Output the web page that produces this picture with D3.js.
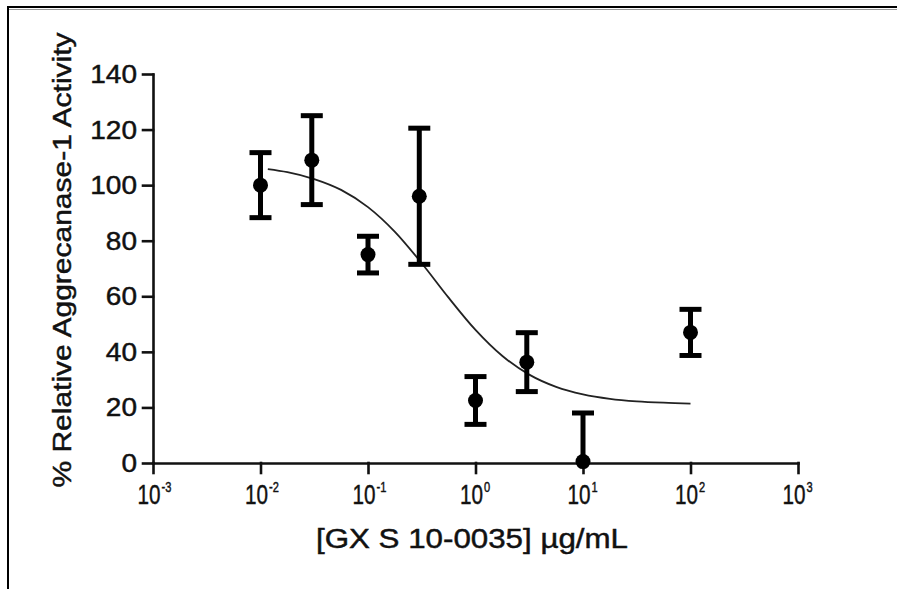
<!DOCTYPE html>
<html>
<head>
<meta charset="utf-8">
<script src="https://cdn.jsdelivr.net/npm/d3@7"></script>
<style>
  body { margin: 0; background: #fff; }
  text { font-family: "Liberation Sans", Arial, sans-serif; fill: #111; stroke: #111; stroke-width: 0.45px; }
</style>
</head>
<body>
<div id="container"></div>
<script>
const conc = [0.01, 0.03, 0.1, 0.3, 1, 3, 10, 100]
const activity = [100, 109, 75, 96, 22.5, 36.3, 0.5, 47]
const sem = [11.7, 16, 6.6, 24.5, 8.6, 10.6, 17.5, 8.3]

// fitted curve
const fitConc = [0.0117, 0.0178, 0.0316, 0.0562, 0.1, 0.178, 0.316, 0.562, 1, 1.78, 3.16, 5.62, 10, 17.8, 31.6, 56.2, 100]
const fitActivity = [105.8, 104.7, 102.2, 98.3, 92.1, 83.2, 71.9, 59.5, 47.9, 38.5, 31.8, 27.4, 24.7, 23.1, 22.2, 21.7, 21.4]

const xTicks = [1e-3, 1e-2, 1e-1, 1e0, 1e1, 1e2, 1e3]
const xTickExp = ['-3', '-2', '-1', '0', '1', '2', '3']
const yTicks = [0, 20, 40, 60, 80, 100, 120, 140]

const xTitle = '[GX S 10-0035] \u00b5g/mL'
const yTitle = '% Relative Aggrecanase-1 Activity'

const width = 897
const height = 589

const svg = d3.select('#container').append('svg')
    .attr('width', width)
    .attr('height', height)

// frame
svg.append('line').attr('x1', 8).attr('x2', width).attr('y1', 7).attr('y2', 7)
    .attr('stroke', '#000').attr('stroke-width', 2)
svg.append('line').attr('x1', 8).attr('x2', width).attr('y1', 9.5).attr('y2', 9.5)
    .attr('stroke', '#999').attr('stroke-width', 1)
svg.append('line').attr('x1', 8).attr('x2', 8).attr('y1', 6).attr('y2', height)
    .attr('stroke', '#000').attr('stroke-width', 2)

const xScale = d3.scaleLog()
    .domain([1e-3, 1e3])
    .range([153, 798])

const yScale = d3.scaleLinear()
    .domain([0, 140])
    .range([463, 74])

const xAxis = d3.axisBottom(xScale)
    .tickValues(xTicks)
    .tickSize(10)
    .tickSizeOuter(0)
    .tickFormat('')

const yAxis = d3.axisLeft(yScale)
    .tickValues(yTicks)
    .tickSize(10)
    .tickSizeOuter(0)
    .tickFormat('')

svg.append('g')
    .attr('transform', `translate(0, ${yScale(0)})`)
    .call(xAxis)
svg.append('g')
    .attr('transform', `translate(${xScale(1e-3)}, 0)`)
    .call(yAxis)

svg.selectAll('.domain, .tick line')
    .attr('stroke', '#111')
    .attr('stroke-width', 2.6)
    .attr('stroke-linecap', 'square')

// y tick labels
svg.append('g').selectAll('text')
    .data(yTicks)
    .enter()
    .append('text')
    .attr('transform', d => `translate(137, ${yScale(d) + 9}) scale(1.12, 1)`)
    .attr('text-anchor', 'end')
    .attr('font-size', 25)
    .text(d => d)

// x tick labels, 10 with superscript
const xl = svg.append('g').selectAll('g')
    .data(xTicks)
    .enter()
    .append('g')
    .attr('transform', d => `translate(${xScale(d) - 4}, 504) scale(0.74, 1)`)
xl.append('text')
    .attr('text-anchor', 'middle')
    .attr('font-size', 28)
    .text('10')
xl.append('text')
    .attr('x', 17)
    .attr('y', -12)
    .attr('font-size', 15)
    .text((d, i) => xTickExp[i])

svg.append('text')
    .attr('transform', 'translate(472, 548) scale(1.16, 1)')
    .attr('text-anchor', 'middle')
    .attr('font-size', 27)
    .text(xTitle)

svg.append('text')
    .attr('transform', 'translate(71, 260) rotate(-90) scale(1.2, 1)')
    .attr('text-anchor', 'middle')
    .attr('font-size', 25)
    .text(yTitle)

// fit line
const line = d3.line()
    .x(d => xScale(d[0]))
    .y(d => yScale(d[1]))
    .curve(d3.curveMonotoneX)

svg.append('path')
    .datum(fitConc.map((c, i) => [c, fitActivity[i]]))
    .attr('d', line)
    .attr('fill', 'none')
    .attr('stroke', '#222')
    .attr('stroke-width', 1.8)

// error bars + points
const pts = conc.map((c, i) => ({c: c, v: activity[i], e: sem[i]}))
const capW = 11

const bars = svg.append('g').selectAll('g')
    .data(pts)
    .enter()
    .append('g')
    .attr('stroke', '#000')
    .attr('stroke-width', 5)

bars.append('line')
    .attr('x1', d => xScale(d.c))
    .attr('x2', d => xScale(d.c))
    .attr('y1', d => yScale(d.v + d.e))
    .attr('y2', d => yScale(Math.max(0, d.v - d.e)))
bars.append('line')
    .attr('x1', d => xScale(d.c) - capW)
    .attr('x2', d => xScale(d.c) + capW)
    .attr('y1', d => yScale(d.v + d.e))
    .attr('y2', d => yScale(d.v + d.e))
bars.filter(d => d.v - d.e >= 0).append('line')
    .attr('x1', d => xScale(d.c) - capW)
    .attr('x2', d => xScale(d.c) + capW)
    .attr('y1', d => yScale(d.v - d.e))
    .attr('y2', d => yScale(d.v - d.e))

svg.append('g').selectAll('circle')
    .data(pts)
    .enter()
    .append('circle')
    .attr('cx', d => xScale(d.c))
    .attr('cy', d => yScale(d.v))
    .attr('r', 7.5)
    .attr('fill', '#000')
</script>
</body>
</html>
